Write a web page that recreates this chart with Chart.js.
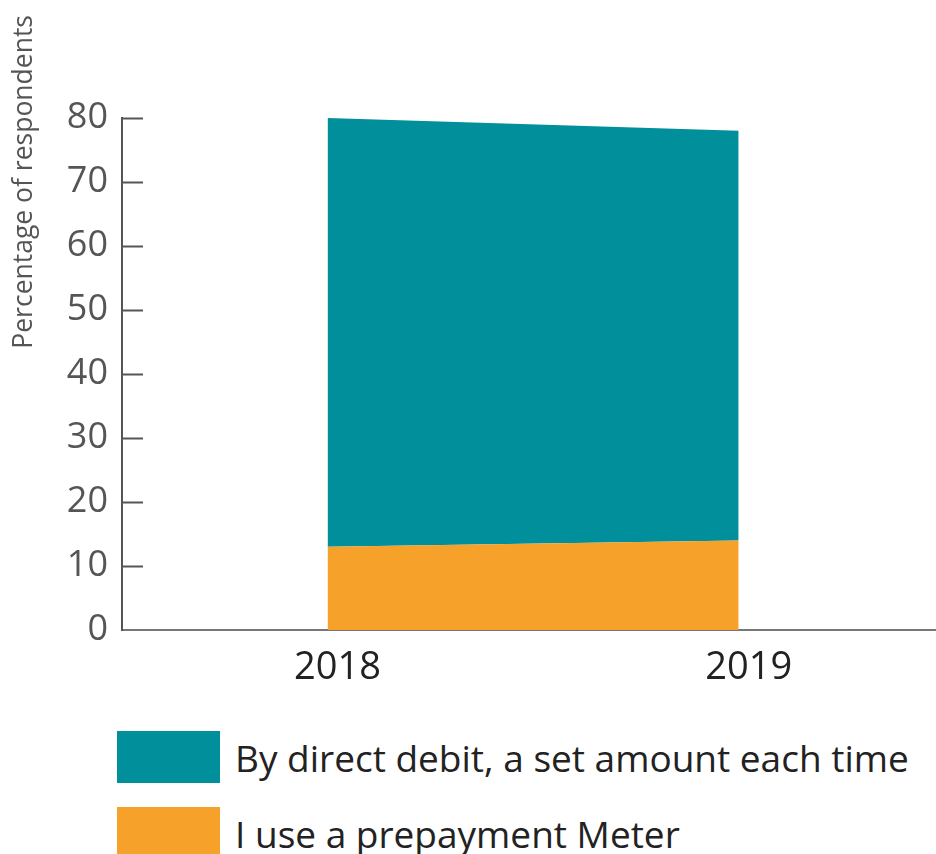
<!DOCTYPE html>
<html>
<head>
<meta charset="utf-8">
<script src="https://cdn.jsdelivr.net/npm/chart.js@4.4.1/dist/chart.umd.min.js"></script>
<style>
  html, body { margin: 0; padding: 0; background: #fff; }
  #wrap { position: relative; width: 936px; height: 854px; overflow: hidden; }
  #chart { position: absolute; left: 0; top: 0; }
  #legend { position: absolute; left: 117px; top: 731px; font-family: "Open Sans", sans-serif; color: #222; }
  .item { display: flex; align-items: center; height: 52px; margin-bottom: 24px; white-space: nowrap; }
  .swatch { width: 103px; height: 52px; margin-right: 15px; flex: none; }
  .label { font-size: 37px; line-height: 1; }
</style>
</head>
<body>
<div id="wrap">
  <canvas id="chart" width="936" height="710"></canvas>
  <div id="legend"></div>
</div>
<script>
// Survey years and the share of respondents paying each way (stacked)
const years = [2018, 2019];
const prepaymentMeter = [13, 14];
const directDebit = [67, 64];
const yTicks = [0, 10, 20, 30, 40, 50, 60, 70, 80];

const seriesNames = ['By direct debit, a set amount each time', 'I use a prepayment Meter'];
const TEAL = '#008f9b';
const ORANGE = '#f6a12a';

// Short tick marks pointing into the plot from the y axis, plus the rotated axis title
const axisExtras = {
  id: 'axisExtras',
  afterDraw(chart) {
    const { ctx, chartArea, scales } = chart;
    const y = scales.y;
    ctx.save();
    ctx.strokeStyle = '#555';
    ctx.lineWidth = 2;
    yTicks.forEach(v => {
      if (v === 0) return;
      const py = Math.round(y.getPixelForValue(v)) + 0.5;
      ctx.beginPath();
      ctx.moveTo(chartArea.left, py);
      ctx.lineTo(chartArea.left + 21, py);
      ctx.stroke();
    });
    ctx.translate(24, 15);
    ctx.rotate(-Math.PI / 2);
    ctx.fillStyle = '#555';
    ctx.font = '26.5px "Open Sans"';
    ctx.textAlign = 'right';
    ctx.textBaseline = 'middle';
    ctx.fillText('Percentage of respondents', 0, 0);
    ctx.restore();
  }
};

const chart = new Chart(document.getElementById('chart'), {
  type: 'line',
  data: {
    datasets: [
      {
        label: seriesNames[1],
        data: years.map((yr, i) => ({ x: yr, y: prepaymentMeter[i] })),
        backgroundColor: ORANGE,
        borderWidth: 0,
        pointRadius: 0,
        fill: 'origin'
      },
      {
        label: seriesNames[0],
        data: years.map((yr, i) => ({ x: yr, y: directDebit[i] })),
        backgroundColor: TEAL,
        borderWidth: 0,
        pointRadius: 0,
        fill: '-1'
      }
    ]
  },
  options: {
    responsive: false,
    animation: false,
    layout: { padding: { top: 118, right: 0, left: 0, bottom: 0 } },
    plugins: { legend: { display: false }, tooltip: { enabled: false } },
    scales: {
      x: {
        type: 'linear',
        min: 2017.5,
        max: 2019.48,
        afterBuildTicks: s => { s.ticks = years.map(v => ({ value: v })); },
        afterFit: s => { s.height = 80; },
        grid: { display: false, drawTicks: false },
        border: { display: true, color: '#777', width: 2 },
        ticks: {
          padding: 15,
          labelOffset: 10,
          color: '#222',
          font: { family: 'Open Sans', size: 38 },
          callback: v => String(v)
        }
      },
      y: {
        stacked: true,
        min: 0,
        max: 80,
        afterBuildTicks: s => { s.ticks = yTicks.map(v => ({ value: v })); },
        afterFit: s => { s.width = 122; },
        grid: { display: false, drawTicks: false },
        border: { display: true, color: '#555', width: 2 },
        ticks: {
          padding: 14,
          color: '#555',
          font: { family: 'Open Sans', size: 36 }
        }
      }
    }
  },
  plugins: [axisExtras]
});

// Legend listed top-down: teal series first, then orange
const legend = document.getElementById('legend');
[...chart.data.datasets].reverse().forEach(ds => {
  const item = document.createElement('div');
  item.className = 'item';
  const sw = document.createElement('div');
  sw.className = 'swatch';
  sw.style.background = ds.backgroundColor;
  const lab = document.createElement('div');
  lab.className = 'label';
  lab.textContent = ds.label;
  item.appendChild(sw);
  item.appendChild(lab);
  legend.appendChild(item);
});
</script>
</body>
</html>
